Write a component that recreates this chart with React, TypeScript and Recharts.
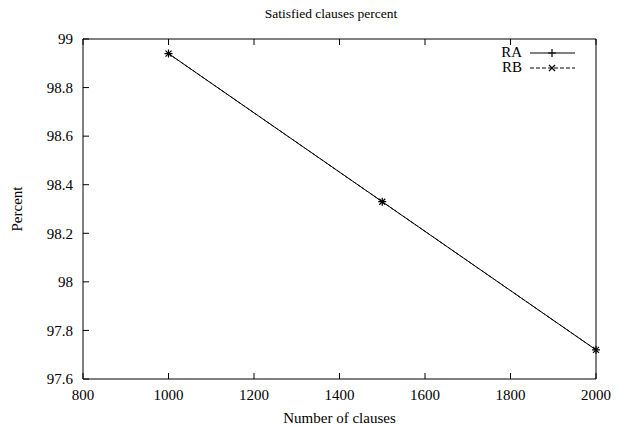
import { Legend, Line, LineChart, XAxis, YAxis } from "recharts";

const clauses = [1000, 1500, 2000];
const raPercent = [98.94, 98.33, 97.72];
const rbPercent = [98.94, 98.33, 97.72];
const xTicks = [800, 1000, 1200, 1400, 1600, 1800, 2000];
const yTicks = [97.6, 97.8, 98, 98.2, 98.4, 98.6, 98.8, 99];

const rows = clauses.map((n, i) => ({ n, ra: raPercent[i], rb: rbPercent[i] }));

const FONT = "'Liberation Serif', serif";
const tickStyle = { fontSize: 15, fill: "#000", fontFamily: FONT };

function PlusDot({ cx, cy }: any) {
  if (cx == null || cy == null) return null;
  return (
    <path d={`M${cx - 4},${cy}H${cx + 4}M${cx},${cy - 4}V${cy + 4}`} stroke="#000" strokeWidth={1.2} fill="none" />
  );
}

function CrossDot({ cx, cy }: any) {
  if (cx == null || cy == null) return null;
  return (
    <path
      d={`M${cx - 3},${cy - 3}L${cx + 3},${cy + 3}M${cx - 3},${cy + 3}L${cx + 3},${cy - 3}`}
      stroke="#000"
      strokeWidth={1.2}
      fill="none"
    />
  );
}

function KeyBox({ payload }: any) {
  return (
    <div>
      {(payload ?? []).map((entry: any) => {
        const dashed = entry.value === "RB";
        return (
          <div key={entry.value} style={{ display: "flex", alignItems: "center", height: 15 }}>
            <span style={{ width: 30, textAlign: "right", fontFamily: FONT, fontSize: 15 }}>{entry.value}</span>
            <svg width={50} height={15} style={{ marginLeft: 6 }}>
              <line x1={2} x2={47} y1={8} y2={8} stroke="#000" strokeDasharray={dashed ? "4 2" : undefined} />
              {dashed ? <CrossDot cx={24} cy={8} /> : <PlusDot cx={24} cy={8} />}
            </svg>
          </div>
        );
      })}
    </div>
  );
}

export default function App() {
  return (
    <div style={{ position: "absolute", left: 0, top: 0, width: 618, height: 425, background: "#fff" }}>
      <div
        style={{
          position: "absolute",
          left: 231,
          top: 6,
          width: 200,
          textAlign: "center",
          fontFamily: FONT,
          fontSize: 13.5,
        }}
      >
        Satisfied clauses percent
      </div>
      <LineChart width={618} height={425} data={rows} margin={{ top: 38, right: 21, bottom: 0, left: 0 }}>
        <XAxis
          xAxisId="b"
          dataKey="n"
          type="number"
          domain={[800, 2000]}
          ticks={xTicks}
          height={46}
          tickSize={-6}
          tickMargin={16}
          tick={tickStyle}
          axisLine={{ stroke: "#000" }}
          tickLine={{ stroke: "#000" }}
          label={{ value: "Number of clauses", position: "insideBottom", offset: 2, style: { fontFamily: FONT, fontSize: 15, fill: "#000" } }}
        />
        <XAxis
          xAxisId="t"
          orientation="top"
          dataKey="n"
          type="number"
          domain={[800, 2000]}
          ticks={xTicks}
          height={1}
          tickSize={-6}
          tickFormatter={() => ""}
          axisLine={{ stroke: "#000" }}
          tickLine={{ stroke: "#000" }}
        />
        <YAxis
          yAxisId="l"
          type="number"
          domain={[97.6, 99]}
          ticks={yTicks}
          width={83}
          tickSize={-6}
          tickMargin={16}
          tick={tickStyle}
          tickFormatter={(v: number) => String(+v.toFixed(1))}
          axisLine={{ stroke: "#000" }}
          tickLine={{ stroke: "#000" }}
          label={{ value: "Percent", angle: -90, position: "insideLeft", offset: 17, style: { textAnchor: "middle", fontFamily: FONT, fontSize: 15, fill: "#000" } }}
        />
        <YAxis
          yAxisId="r"
          orientation="right"
          type="number"
          domain={[97.6, 99]}
          ticks={yTicks}
          width={1}
          tickSize={-6}
          tickFormatter={() => ""}
          axisLine={{ stroke: "#000" }}
          tickLine={{ stroke: "#000" }}
        />
        <Legend
          verticalAlign="middle"
          align="center"
          layout="vertical"
          content={<KeyBox />}
          wrapperStyle={{ position: "absolute", top: 45, left: 492, width: 120 }}
        />
        <Line
          xAxisId="b"
          yAxisId="l"
          dataKey="ra"
          name="RA"
          stroke="#000"
          strokeWidth={1}
          dot={<PlusDot />}
          isAnimationActive={false}
        />
        <Line
          xAxisId="b"
          yAxisId="l"
          dataKey="rb"
          name="RB"
          stroke="#000"
          strokeWidth={1}
          strokeDasharray="3 2"
          dot={<CrossDot />}
          isAnimationActive={false}
        />
      </LineChart>
    </div>
  );
}
